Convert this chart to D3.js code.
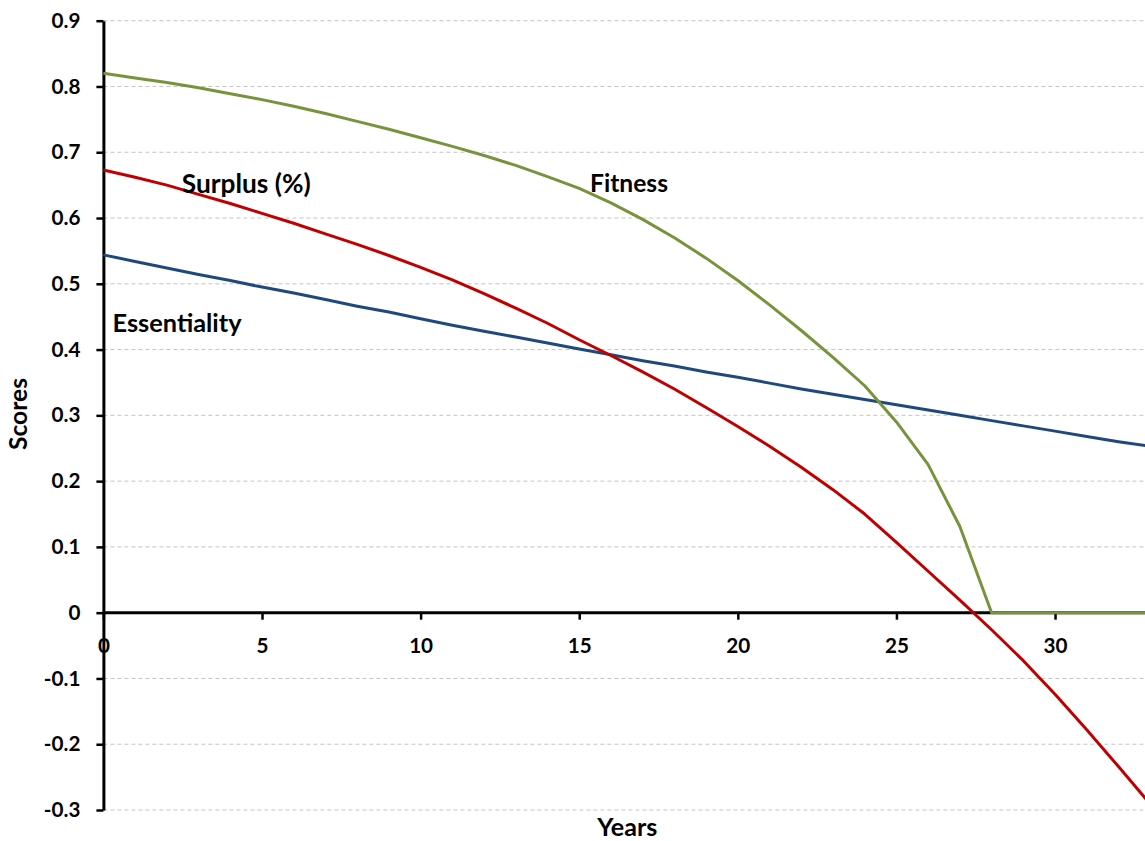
<!DOCTYPE html>
<html><head><meta charset="utf-8">
<script src="https://cdn.jsdelivr.net/npm/d3@7"></script>
<style>
body{margin:0;background:#fff}
svg{display:block}
text{font-family:Lato,"Open Sans",sans-serif;font-weight:bold;fill:#000}
</style>
</head><body>
<svg id="c" width="1145" height="841"></svg>
<script>
const years = [0,1,2,3,4,5,6,7,8,9,10,11,12,13,14,15,16,17,18,19,20,21,22,23,24,25,26,27,28,29,30,31,32,33];
const essentiality = [0.544,0.534,0.524,0.514,0.505,0.495,0.486,0.476,0.466,0.457,0.447,0.437,0.428,0.419,0.410,0.401,0.392,0.383,0.375,0.366,0.358,0.349,0.340,0.332,0.324,0.316,0.308,0.300,0.292,0.284,0.276,0.268,0.260,0.253];
const surplus = [0.673,0.662,0.650,0.636,0.622,0.607,0.592,0.576,0.560,0.543,0.525,0.506,0.485,0.463,0.440,0.415,0.391,0.366,0.340,0.312,0.283,0.253,0.221,0.187,0.150,0.107,0.063,0.019,-0.026,-0.073,-0.124,-0.178,-0.234,-0.291];
const fitness = [0.820,0.813,0.806,0.798,0.789,0.780,0.770,0.759,0.747,0.735,0.722,0.709,0.695,0.680,0.663,0.645,0.623,0.598,0.570,0.539,0.505,0.468,0.429,0.388,0.345,0.290,0.225,0.131,0,0,0,0,0,0];
const seriesNames = ["Essentiality","Surplus (%)","Fitness"];
const seriesColors = ["#1F497D","#C00000","#77933C"];
const yTicks = [-0.3,-0.2,-0.1,0,0.1,0.2,0.3,0.4,0.5,0.6,0.7,0.8,0.9];
const yTickLabels = ["-0.3","-0.2","-0.1","0","0.1","0.2","0.3","0.4","0.5","0.6","0.7","0.8","0.9"];
const xTicks = [0,5,10,15,20,25,30];
const xTickLabels = ["0","5","10","15","20","25","30"];

const svg = d3.select("#c");
const W = 1145;
const x = d3.scaleLinear().domain([0,33]).range([103.4,1150.2]);
const y = d3.scaleLinear().domain([-0.3,0.9]).range([810,20.7]);

function fit(sel, target){
  const w = sel.node().getComputedTextLength();
  const fs = parseFloat(sel.style("font-size"));
  sel.style("font-size", (fs*target/w) + "px");
}

// gridlines
svg.append("g").selectAll("line").data(yTicks.filter(d=>d!==0)).join("line")
  .attr("x1", x(0)).attr("x2", W)
  .attr("y1", d=>y(d)).attr("y2", d=>y(d))
  .attr("stroke","#c4c4c4").attr("stroke-width",1).attr("stroke-dasharray","4,3");

// axes
const gx = svg.append("g").attr("transform",`translate(0,${y(0)})`)
  .call(d3.axisBottom(x).tickValues(xTicks).tickFormat((d,i)=>xTickLabels[i]).tickSizeInner(7).tickSizeOuter(0).tickPadding(19));
const gy = svg.append("g").attr("transform",`translate(${x(0)},0)`)
  .call(d3.axisLeft(y).tickValues(yTicks).tickFormat((d,i)=>yTickLabels[i]).tickSizeInner(7).tickSizeOuter(0).tickPadding(16));
[gx,gy].forEach(g=>{
  g.select(".domain").attr("stroke","#000").attr("stroke-width",3);
  g.selectAll(".tick line").attr("stroke","#000").attr("stroke-width",2.5);
  g.selectAll(".tick text").attr("font-family",null).attr("font-size",null).style("font-size","21px").attr("fill","#000");
});
gx.select(".domain").attr("d",`M${x(0)},0H${W}`);
{
  const ref = gx.selectAll(".tick text").filter((d)=>d===15);
  const w = ref.node().getComputedTextLength();
  const fs = 21*24/w;
  gx.selectAll(".tick text").style("font-size",fs+"px");
  gy.selectAll(".tick text").style("font-size",fs+"px");
}

// lines
const lineGen = d3.line().x((d,i)=>x(years[i])).y(d=>y(d));
[essentiality, surplus, fitness].forEach((s,k)=>{
  svg.append("path").datum(s).attr("d",lineGen)
    .attr("fill","none").attr("stroke",seriesColors[k]).attr("stroke-width",3)
    .attr("stroke-linejoin","round");
});

// series labels
const lab = svg.append("g");
const t1 = lab.append("text").attr("x",x(2.47)).attr("y",y(0.6375)).style("font-size","23px").text(seriesNames[1]);
fit(t1,129);
const t2 = lab.append("text").attr("x",x(15.34)).attr("y",y(0.639)).style("font-size","23px").text(seriesNames[2]);
fit(t2,78);
const t3 = lab.append("text").attr("x",x(0.29)).attr("y",y(0.427)).style("font-size","23px").text(seriesNames[0]);
fit(t3,129);

// axis titles
const ty = svg.append("text").attr("transform","translate(27,414) rotate(-90)").attr("text-anchor","middle").style("font-size","23px").text("Scores");
fit(ty,72);
const tx = svg.append("text").attr("x",627.3).attr("y",836).attr("text-anchor","middle").style("font-size","23px").text("Years");
fit(tx,60);
</script>
</body></html>
